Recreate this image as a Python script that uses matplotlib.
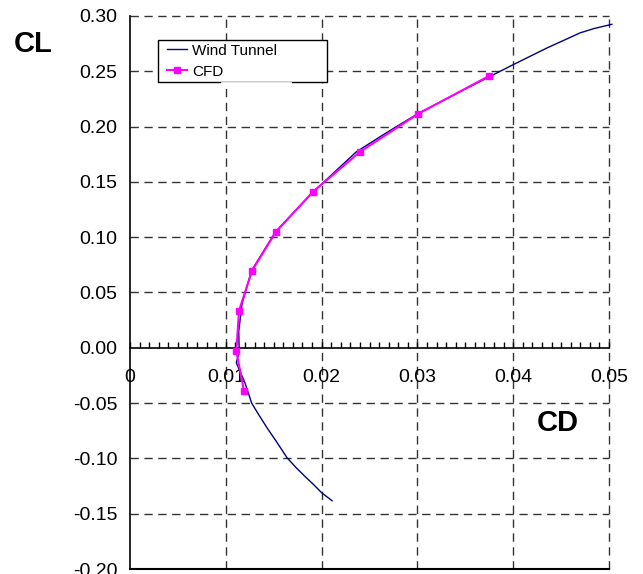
import numpy as np
import matplotlib.pyplot as plt
from matplotlib.ticker import MultipleLocator, StrMethodFormatter
from matplotlib.lines import Line2D
from matplotlib.legend_handler import HandlerLine2D

plt.rcParams["font.family"] = ["Liberation Sans", "DejaVu Sans"]
plt.rcParams["axes.unicode_minus"] = False

# data
wt_cd = [0.0211, 0.0200, 0.0192, 0.0183, 0.0173, 0.0164, 0.0153, 0.0143, 0.0134,
         0.0127, 0.0120, 0.0111, 0.0114, 0.01135, 0.0117, 0.0127, 0.0152, 0.0191,
         0.0205, 0.0236, 0.0265, 0.0301, 0.0350, 0.0400, 0.0435, 0.0470, 0.0485,
         0.0503]
wt_cl = [-0.1383, -0.131, -0.124, -0.1166, -0.108, -0.0995, -0.085, -0.0723, -0.060,
         -0.050, -0.0317, -0.0136, -0.003, 0.015, 0.040, 0.070, 0.105, 0.141,
         0.152, 0.177, 0.193, 0.212, 0.234, 0.256, 0.271, 0.2848, 0.2888,
         0.2925]

cfd_cd = [0.0119, 0.0111, 0.01138, 0.01273, 0.01524, 0.0191, 0.0240, 0.0301, 0.0375]
cfd_cl = [-0.039, -0.003, 0.0335, 0.0696, 0.1049, 0.141, 0.1772, 0.2116, 0.2459]

x_ticks = [0, 0.01, 0.02, 0.03, 0.04, 0.05]
x_labels = ["0", "0.01", "0.02", "0.03", "0.04", "0.05"]
y_ticks = [-0.20, -0.15, -0.10, -0.05, 0.00, 0.05, 0.10, 0.15, 0.20, 0.25, 0.30]

fig = plt.figure(figsize=(6.43, 5.74), dpi=100)
ax = fig.add_axes([130/643, 1 - 569/574, 479/643, 553/574])

ax.set_xlim(0, 0.05)
ax.set_ylim(-0.2, 0.3)

# dashed grid
for xv in x_ticks[1:]:
    ax.axvline(xv, color="0.2", lw=1, ls=(0, (6, 4)), zorder=1, clip_on=False)
for yv in y_ticks[1:]:
    if yv != 0:
        ax.axhline(yv, color="0.2", lw=1, ls=(0, (6, 4)), zorder=1, clip_on=False)

ax.plot(wt_cd, wt_cl, color="#000080", lw=1, label="Wind Tunnel", zorder=3, clip_on=False)
ax.plot(cfd_cd, cfd_cl, color="#FF00FF", lw=1.5, marker="s", markersize=5,
        label="CFD", zorder=4)

# axes styling
for s in ["top", "right"]:
    ax.spines[s].set_visible(False)
ax.spines["bottom"].set_position(("data", 0))
ax.spines["bottom"].set_linewidth(1.2)
ax.spines["left"].set_linewidth(1.2)
ax.axhline(-0.2, color="black", lw=1.5, clip_on=False, zorder=2)

ax.set_xticks(x_ticks)
ax.set_xticklabels(x_labels)
ax.xaxis.set_minor_locator(MultipleLocator(0.001))
ax.tick_params(axis="x", which="both", direction="in", length=4, width=1,
               labelsize=14, pad=15)
ax.set_yticks(y_ticks)
ax.yaxis.set_major_formatter(StrMethodFormatter("{x:.2f}"))
ax.tick_params(axis="y", length=0, labelsize=14, pad=9)

fig.text(33/643, 1 - 44/574, "CL", fontsize=21, fontweight="bold", ha="center", va="center")
fig.text(558/643, 1 - 423/574, "CD", fontsize=21, fontweight="bold", ha="center", va="center")

leg = ax.legend(loc="upper left", bbox_to_anchor=(0.0585, 0.8766, 0.353, 0.08),
                mode="expand", fontsize=11, frameon=True, fancybox=False,
                edgecolor="black", framealpha=1, handlelength=1.65,
                handletextpad=0.35, borderpad=0.25, labelspacing=0.44,
                borderaxespad=0, handler_map={Line2D: HandlerLine2D(xpad=0.35)})
leg.get_frame().set_linewidth(1)
leg.set_zorder(6)

# small gap in the legend's bottom border as in the reference
fig.add_artist(Line2D([222/643, 290/643], [1 - 83/574, 1 - 83/574], color="white", lw=2, zorder=10))

fig.savefig("out.png", dpi=100)
